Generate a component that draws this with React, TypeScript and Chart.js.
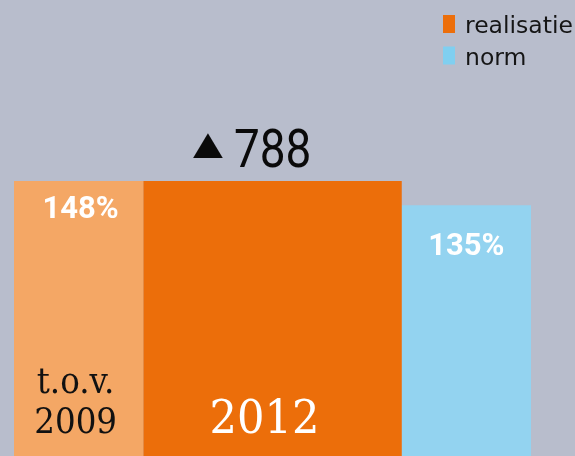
import React, { useEffect, useRef } from "react";
import { Chart, registerables } from "chart.js";

Chart.register(...registerables);

// ---- data ----
const barLabels = ["t.o.v. 2009", "2012", "norm"];
const barValues = [148, 148, 135];
const barSpans = [1, 2, 1];
const valueLabels = ["148%", "", "135%"];
const deltaLabel = "788";
const legendLabels = ["realisatie", "norm"];

// ---- style ----
const BG = "#b8bdcc";
const barColors = ["#f4a765", "#ec6e0a", "#93d3f0"];
const legendColors = ["#ec6e0a", "#80cff0"];

const minSpacing = (barSpans[0] + barSpans[1]) / 2;
let acc = 0;
const barCenters = barSpans.map((s) => {
  const c = acc + s / 2;
  acc += s;
  return c;
});

function squashText(ctx: any, text: string, x: number, y: number, sx: number) {
  ctx.save();
  ctx.translate(x, y);
  ctx.scale(sx, 1);
  ctx.fillText(text, 0, 0);
  ctx.restore();
}

const overlay = {
  id: "overlay",
  beforeDraw(chart: any) {
    const { ctx, width, height } = chart;
    ctx.save();
    ctx.fillStyle = BG;
    ctx.fillRect(0, 0, width, height);
    ctx.restore();
  },
  afterDatasetsDraw(chart: any) {
    const { ctx, chartArea } = chart;
    const b0 = chart.getDatasetMeta(0).data[0];
    const b1 = chart.getDatasetMeta(1).data[0];
    const b2 = chart.getDatasetMeta(2).data[0];
    const bottom = chartArea.bottom;
    ctx.save();
    // percentage labels
    ctx.fillStyle = "#ffffff";
    ctx.textAlign = "center";
    ctx.textBaseline = "alphabetic";
    ctx.font = "bold 31px Roboto";
    ctx.fillText(valueLabels[0], b0.x + 2, b0.y + 37);
    ctx.fillText(valueLabels[2], b2.x, b2.y + 50);

    // serif labels in bars
    ctx.fillStyle = "#111111";
    ctx.font = '35px "DejaVu Serif"';
    const parts = barLabels[0].split(" ");
    squashText(ctx, parts[0], b0.x - 3, bottom - 63, 0.93);
    squashText(ctx, parts[1], b0.x - 3, bottom - 23, 0.93);
    ctx.fillStyle = "#ffffff";
    ctx.font = '47px "DejaVu Serif"';
    squashText(ctx, barLabels[1], b1.x - 8, bottom - 23, 0.92);

    // delta above dark bar
    ctx.fillStyle = "#0a0a0a";
    ctx.textAlign = "center";
    ctx.font = '36px "DejaVu Sans"';
    ctx.save();
    ctx.translate(b1.x - 64.5, b1.y - 27);
    ctx.scale(1.08, 0.9);
    ctx.fillText("\u25B2", 0, 0);
    ctx.restore();
    ctx.textAlign = "left";
    ctx.font = "54px Roboto";
    squashText(ctx, deltaLabel, b1.x - 38.5, b1.y - 14, 0.85);

    // legend
    ctx.font = '23.5px "DejaVu Sans"';
    ctx.textAlign = "left";
    legendLabels.forEach((lab, i) => {
      const y = 15 + i * 31.5;
      ctx.fillStyle = legendColors[i];
      ctx.fillRect(443, y, 12, 18);
      ctx.fillStyle = "#151515";
      ctx.fillText(lab, 465, y + 18);
    });
    ctx.restore();
  },
};

export default function App() {
  const ref = useRef<HTMLCanvasElement>(null);
  useEffect(() => {
    document.body.style.margin = "0";
    document.body.style.background = BG;
    const chart = new Chart(ref.current!, {
      type: "bar",
      data: {
        datasets: barValues.map((v, i) => ({
          label: barLabels[i],
          data: [{ x: barCenters[i], y: v }],
          backgroundColor: barColors[i],
          borderWidth: 0,
          categoryPercentage: 1,
          barPercentage: barSpans[i] / minSpacing,
          grouped: false,
        })),
      },
      options: {
        responsive: false,
        animation: false,
        layout: { padding: { left: 14, right: 0, top: 0, bottom: 0 } },
        plugins: { legend: { display: false }, tooltip: { enabled: false } },
        scales: {
          x: {
            type: "linear",
            display: false,
            min: 0,
            max: 561 / 129.25,
            afterBuildTicks: (axis: any) => {
              axis.ticks = [];
            },
          },
          y: { display: false, min: 0, max: 245.4 },
        },
      },
      plugins: [overlay],
    });
    return () => chart.destroy();
  }, []);
  return <canvas ref={ref} width={575} height={456} style={{ display: "block" }} />;
}
